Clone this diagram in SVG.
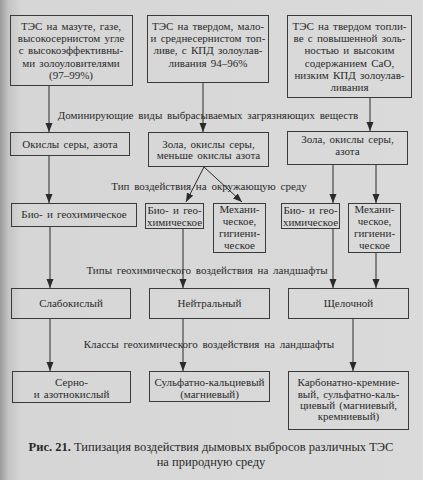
<svg xmlns="http://www.w3.org/2000/svg" width="423" height="480" viewBox="0 0 423 480" font-family="'Liberation Serif', 'Times New Roman', 'DejaVu Serif', serif">
<defs>
<linearGradient id="bg" x1="0" y1="0" x2="1" y2="0">
<stop offset="0" stop-color="#9a9a9a"/>
<stop offset="0.02" stop-color="#c4c4c4"/>
<stop offset="0.05" stop-color="#d6d6d6"/>
<stop offset="1" stop-color="#dadada"/>
</linearGradient>
<marker id="ah" markerUnits="userSpaceOnUse" markerWidth="10" markerHeight="8" refX="9" refY="3.5" orient="auto">
<path d="M0,0 L9,3.5 L0,7 z" fill="#2a2a2a"/>
</marker>
</defs>
<style>
text{font-family:'Liberation Serif','Times New Roman','DejaVu Serif',serif}
.box{fill:none;stroke:#3a3a3a;stroke-width:1}
.t{font-size:11px;fill:#2a2a2a;text-anchor:middle;word-spacing:1.5px}
.lbl{font-size:11px;fill:#2a2a2a;text-anchor:middle;word-spacing:2px}
.cap{font-size:12.5px;fill:#2a2a2a;text-anchor:middle}
.c line{stroke:#2a2a2a;stroke-width:1;fill:none}
.a{marker-end:url(#ah)}
</style>
<rect width="423" height="480" fill="url(#bg)"/>

<g id="connectors" class="c">
<line class="a" x1="49" y1="86" x2="49" y2="132"/>
<line class="a" x1="203" y1="83" x2="203" y2="132"/>
<line class="a" x1="370" y1="97" x2="370" y2="131"/>
<line class="a" x1="49" y1="156" x2="49" y2="203"/>
<line class="a" x1="204" y1="167" x2="186" y2="202"/>
<line class="a" x1="204" y1="167" x2="242" y2="202"/>
<line class="a" x1="333" y1="165" x2="333" y2="203"/>
<line class="a" x1="376" y1="165" x2="376" y2="203"/>
<line class="a" x1="50" y1="227" x2="50" y2="288"/>
<line class="a" x1="183" y1="229" x2="183" y2="288"/>
<line class="a" x1="333" y1="229" x2="333" y2="288"/>
<line class="a" x1="376" y1="253" x2="376" y2="288"/>
<line class="a" x1="50" y1="319" x2="50" y2="371"/>
<line class="a" x1="183" y1="319" x2="183" y2="371"/>
<line class="a" x1="353" y1="319" x2="353" y2="371"/>
</g>

<g id="labels">
<text class="lbl" x="208" y="119">Доминирующие виды выбрасываемых загрязняющих веществ</text>
<text class="lbl" x="209" y="190">Тип воздействия на окружающую среду</text>
<text class="lbl" x="207" y="274">Типы геохимического воздействия на ландшафты</text>
<text class="lbl" x="209" y="348">Классы геохимического воздействия на ландшафты</text>
</g>

<g id="n1">
<rect class="box" x="10.5" y="15.5" width="122" height="70"/>
<text class="t" x="71" y="30">ТЭС на мазуте, газе,</text>
<text class="t" x="71" y="42.2">высокосернистом угле</text>
<text class="t" x="71" y="54.4">с высокоэффективны-</text>
<text class="t" x="71" y="66.6">ми золоуловителями</text>
<text class="t" x="71" y="78.8">(97–99%)</text>
</g>
<g id="n2">
<rect class="box" x="147.5" y="15.5" width="121" height="67"/>
<text class="t" x="208" y="30">ТЭС на твердом, мало-</text>
<text class="t" x="208" y="42.2">и среднесернистом топ-</text>
<text class="t" x="208" y="54.4">ливе, с КПД золоулав-</text>
<text class="t" x="208" y="66.6">ливания 94–96%</text>
</g>
<g id="n3">
<rect class="box" x="287.5" y="15.5" width="124" height="82"/>
<text class="t" x="349.5" y="30">ТЭС на твердом топли-</text>
<text class="t" x="349.5" y="42.2">ве с повышенной золь-</text>
<text class="t" x="349.5" y="54.4">ностью и высоким</text>
<text class="t" x="349.5" y="66.6">содержанием CaO,</text>
<text class="t" x="349.5" y="78.8">низким КПД золоулав-</text>
<text class="t" x="349.5" y="91">ливания</text>
</g>

<g id="n4">
<rect class="box" x="10.5" y="132.5" width="119" height="23"/>
<text class="t" x="70" y="147.5">Окислы серы, азота</text>
</g>
<g id="n5">
<rect class="box" x="148.5" y="132.5" width="120" height="34"/>
<text class="t" x="208.5" y="147.5">Зола, окислы серы,</text>
<text class="t" x="208.5" y="159">меньше окислы азота</text>
</g>
<g id="n6">
<rect class="box" x="287.5" y="131.5" width="120" height="33"/>
<text class="t" x="347.5" y="143">Зола, окислы серы,</text>
<text class="t" x="347.5" y="155">азота</text>
</g>

<g id="n7">
<rect class="box" x="11.5" y="203.5" width="125" height="23"/>
<text class="t" x="74" y="218">Био- и геохимическое</text>
</g>
<g id="n8">
<rect class="box" x="145.5" y="203.5" width="58" height="25"/>
<text class="t" x="174.5" y="214">Био- и гео-</text>
<text class="t" x="174.5" y="226">химическое</text>
</g>
<g id="n9">
<rect class="box" x="213.5" y="203.5" width="52" height="49"/>
<text class="t" x="239.5" y="213">Механи-</text>
<text class="t" x="239.5" y="225">ческое,</text>
<text class="t" x="239.5" y="237">гигиени-</text>
<text class="t" x="239.5" y="249">ческое</text>
</g>
<g id="n10">
<rect class="box" x="281.5" y="203.5" width="58" height="25"/>
<text class="t" x="310.5" y="214">Био- и гео-</text>
<text class="t" x="310.5" y="226">химическое</text>
</g>
<g id="n11">
<rect class="box" x="348.5" y="203.5" width="52" height="49"/>
<text class="t" x="374.5" y="213">Механи-</text>
<text class="t" x="374.5" y="225">ческое,</text>
<text class="t" x="374.5" y="237">гигиени-</text>
<text class="t" x="374.5" y="249">ческое</text>
</g>

<g id="n12">
<rect class="box" x="11.5" y="288.5" width="119" height="30"/>
<text class="t" x="71" y="307">Слабокислый</text>
</g>
<g id="n13">
<rect class="box" x="149.5" y="288.5" width="120" height="30"/>
<text class="t" x="209.5" y="307">Нейтральный</text>
</g>
<g id="n14">
<rect class="box" x="288.5" y="288.5" width="120" height="30"/>
<text class="t" x="348.5" y="307">Щелочной</text>
</g>

<g id="n15">
<rect class="box" x="12.5" y="371.5" width="118" height="31"/>
<text class="t" x="71.5" y="386">Серно-</text>
<text class="t" x="71.5" y="397.5">и азотнокислый</text>
</g>
<g id="n16">
<rect class="box" x="149.5" y="371.5" width="120" height="30"/>
<text class="t" x="209.5" y="386">Сульфатно-кальциевый</text>
<text class="t" x="209.5" y="397.5">(магниевый)</text>
</g>
<g id="n17">
<rect class="box" x="288.5" y="371.5" width="120" height="58"/>
<text class="t" x="348.5" y="386">Карбонатно-кремние-</text>
<text class="t" x="348.5" y="397.5">вый, сульфатно-каль-</text>
<text class="t" x="348.5" y="408.5">циевый (магниевый,</text>
<text class="t" x="348.5" y="419.5">кремниевый)</text>
</g>

<g id="caption">
<text class="cap" x="211" y="451"><tspan font-weight="bold">Рис. 21.</tspan> Типизация воздействия дымовых выбросов различных ТЭС</text>
<text class="cap" x="211" y="466">на природную среду</text>
</g>
</svg>
